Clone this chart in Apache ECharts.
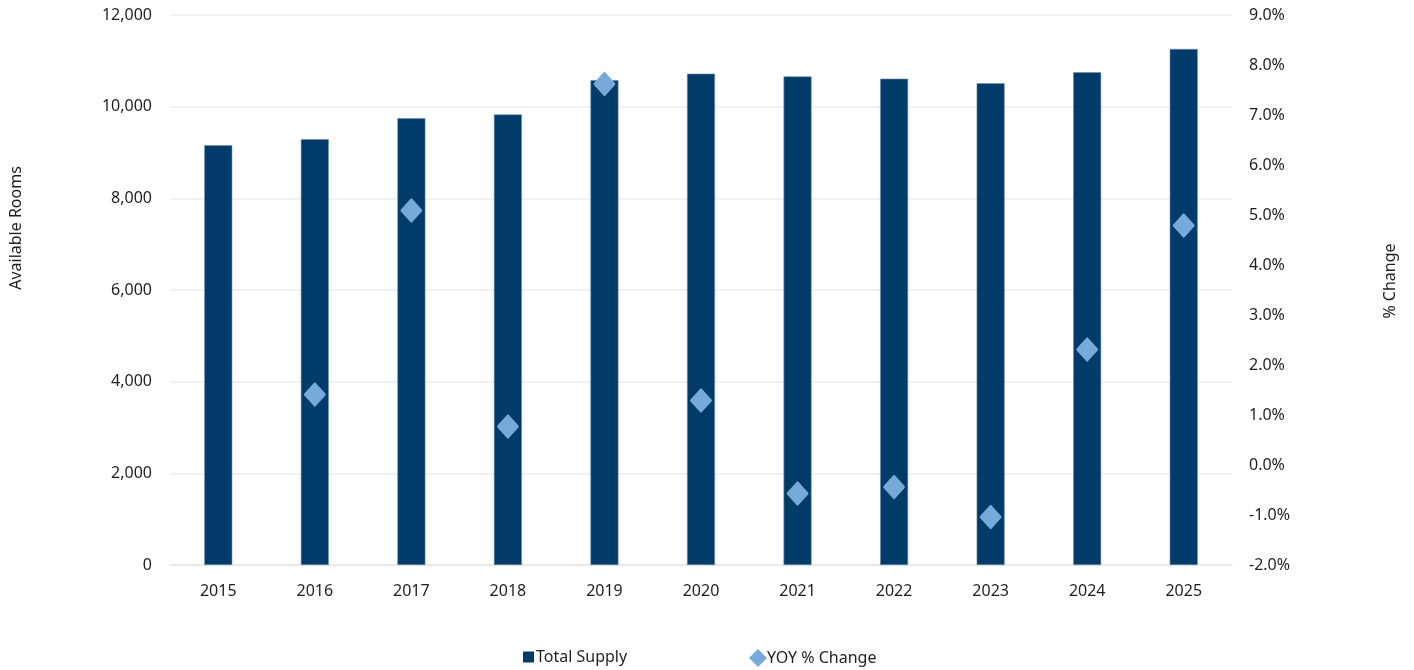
<!DOCTYPE html>
<html>
<head>
<meta charset="utf-8">
<script src="https://cdn.jsdelivr.net/npm/echarts@6/dist/echarts.min.js"></script>
<style>
  html, body { margin: 0; padding: 0; background: #fff; }
  #chart { width: 1414px; height: 670px; }
</style>
</head>
<body>
<div id="chart"></div>
<script>
// 数据
let years = ['2015', '2016', '2017', '2018', '2019', '2020', '2021', '2022', '2023', '2024', '2025'];
let totalSupply = [9160, 9290, 9750, 9830, 10580, 10720, 10660, 10610, 10510, 10750, 11260];
let yoyChange = [null, 1.41, 5.09, 0.77, 7.62, 1.29, -0.57, -0.44, -1.04, 2.31, 4.79];

let colors = ['#003b69', '#75aadb'];
let fontName = 'Noto Sans';
let textColor = '#1f1f1f';

let myChart = echarts.init(document.getElementById('chart'));

let option = {
    animation: false,
    backgroundColor: '#fff',
    textStyle: { fontFamily: fontName },
    grid: {
        left: 168,
        right: 182,
        top: 15,
        bottom: 105
    },
    // 图例分开放，两个图标大小不同
    legend: [{
        left: 518,
        top: 644,
        itemWidth: 11,
        itemHeight: 11,
        itemStyle: { borderWidth: 0 },
        textStyle: {
            fontFamily: fontName,
            fontSize: 16,
            color: textColor,
            padding: [0, 0, 0, -3]
        },
        data: [{ name: 'Total Supply', icon: 'rect' }]
    }, {
        left: 744,
        top: 644,
        itemWidth: 18,
        itemHeight: 18,
        itemStyle: { borderWidth: 0 },
        textStyle: {
            fontFamily: fontName,
            fontSize: 16,
            color: textColor,
            padding: [0, 0, 0, -5]
        },
        data: [{ name: 'YOY % Change', icon: 'diamond' }]
    }],
    xAxis: {
        type: 'category',
        data: years,
        axisTick: { show: false },
        axisLine: {
            lineStyle: { color: '#e6e6e6', width: 1.5 }
        },
        axisLabel: {
            color: textColor,
            fontSize: 16,
            margin: 18
        }
    },
    yAxis: [{
        type: 'value',
        min: 0,
        max: 12000,
        interval: 2000,
        name: 'Available Rooms',
        nameLocation: 'middle',
        nameGap: 146,
        nameTextStyle: {
            color: textColor,
            fontSize: 16,
            padding: [0, 0, 0, 124]
        },
        axisLine: { show: false },
        axisTick: { show: false },
        splitLine: {
            lineStyle: { color: '#ececec', width: 1.5 }
        },
        axisLabel: {
            color: textColor,
            fontSize: 16,
            margin: 18,
            formatter: function (v) {
                return v.toLocaleString('en-US');
            }
        }
    }, {
        type: 'value',
        min: -2,
        max: 9,
        interval: 1,
        name: '% Change',
        nameLocation: 'middle',
        nameGap: 150,
        nameRotate: 90,
        nameTextStyle: {
            color: textColor,
            fontSize: 16,
            padding: [0, 0, 0, 18]
        },
        axisLine: { show: false },
        axisTick: { show: false },
        splitLine: { show: false },
        axisLabel: {
            color: textColor,
            fontSize: 16,
            margin: 17,
            formatter: function (v) {
                return v.toFixed(1) + '%';
            }
        }
    }],
    series: [{
        name: 'Total Supply',
        type: 'bar',
        yAxisIndex: 0,
        barWidth: 28,
        data: totalSupply,
        itemStyle: {
            color: colors[0],
            borderColor: '#6f8fae',
            borderWidth: 0.6
        }
    }, {
        name: 'YOY % Change',
        type: 'scatter',
        yAxisIndex: 1,
        symbol: 'diamond',
        symbolSize: [19, 21],
        data: yoyChange,
        itemStyle: {
            color: colors[1],
            borderColor: colors[1],
            borderWidth: 3,
            borderJoin: 'round',
            opacity: 1
        }
    }]
};

myChart.setOption(option);
</script>
</body>
</html>
